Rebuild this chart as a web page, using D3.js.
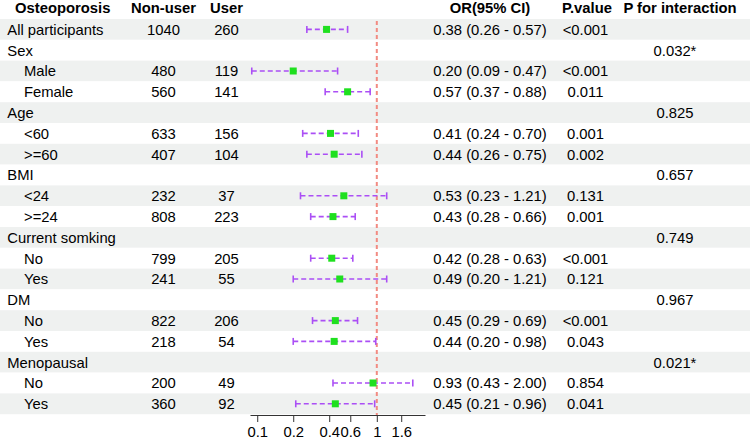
<!DOCTYPE html>
<html>
<head>
<meta charset="utf-8">
<script src="https://cdn.jsdelivr.net/npm/d3@7"></script>
<style>
html,body{margin:0;padding:0;background:#fff;}
svg{display:block;}
text{font-family:"Liberation Sans",Arial,sans-serif;}
</style>
</head>
<body>
<svg id="chart" width="750" height="439"></svg>
<script>
// ---- data ----
const labels = ["All participants","Sex","Male","Female","Age","<60",">=60","BMI","<24",">=24","Current somking","No","Yes","DM","No","Yes","Menopausal","No","Yes"];
const indent = [0,0,1,1,0,1,1,0,1,1,0,1,1,0,1,1,0,1,1];
const nonUser = [1040,null,480,560,null,633,407,null,232,808,null,799,241,null,822,218,null,200,360];
const user = [260,null,119,141,null,156,104,null,37,223,null,205,55,null,206,54,null,49,92];
const orVal = [0.38,null,0.20,0.57,null,0.41,0.44,null,0.53,0.43,null,0.42,0.49,null,0.45,0.44,null,0.93,0.45];
const ciLow = [0.26,null,0.09,0.37,null,0.24,0.26,null,0.23,0.28,null,0.28,0.20,null,0.29,0.20,null,0.43,0.21];
const ciHigh = [0.57,null,0.47,0.88,null,0.70,0.75,null,1.21,0.66,null,0.63,1.21,null,0.69,0.98,null,2.00,0.96];
const pValue = ["<0.001","","<0.001","0.011","","0.001","0.002","","0.131","0.001","","<0.001","0.121","","<0.001","0.043","","0.854","0.041"];
const pInter = ["","0.032*","","","0.825","","","0.657","","","0.749","","","0.967","","","0.021*","",""];
const headers = ["Osteoporosis","Non-user","User","OR(95% CI)","P.value","P for interaction"];
const tickVals = [0.1,0.2,0.4,0.6,1,1.6];

// ---- layout ----
const svg = d3.select("#chart");
const W = 750;
const fs = 14.8;
const rowTop = 19, rowH = 20.8;
const n = labels.length;
const yCenter = i => rowTop + rowH * i + rowH / 2;

const x = d3.scaleLog().domain([0.087, 2.53]).range([250, 425]);
const axisY = 415;

// backgrounds
svg.selectAll("rect.band").data(labels).enter().append("rect")
  .attr("class","band")
  .attr("x",0).attr("width",W)
  .attr("y",(d,i)=>rowTop + rowH*i).attr("height",rowH)
  .attr("fill",(d,i)=> i%2===0 ? "#eff1f0" : "#ffffff");

// headers
const colX = {lab:15, non:163.5, user:226.5, or:490, p:587, pi:680};
const hdr = [
  {t:headers[0], x:colX.lab, a:"start"},
  {t:headers[1], x:colX.non, a:"middle"},
  {t:headers[2], x:colX.user, a:"middle"},
  {t:headers[3], x:colX.or, a:"middle"},
  {t:headers[4], x:colX.p, a:"middle"},
  {t:headers[5], x:colX.pi, a:"middle"}
];
svg.selectAll("text.hdr").data(hdr).enter().append("text")
  .attr("class","hdr")
  .attr("x",d=>d.x).attr("y",13)
  .attr("text-anchor",d=>d.a)
  .attr("font-weight","bold")
  .attr("font-size",fs)
  .attr("fill","#000")
  .text(d=>d.t);

const baseOff = 5.3;
const g = svg.append("g");
labels.forEach((lab,i)=>{
  const y = yCenter(i) + baseOff;
  g.append("text").attr("x", indent[i] ? 24 : 7.3).attr("y",y).attr("font-size",fs).text(lab);
  if (nonUser[i] !== null) g.append("text").attr("x",colX.non).attr("y",y).attr("text-anchor","middle").attr("font-size",fs).text(nonUser[i]);
  if (user[i] !== null) g.append("text").attr("x",colX.user).attr("y",y).attr("text-anchor","middle").attr("font-size",fs).text(user[i]);
  if (orVal[i] !== null) {
    const f = d3.format(".2f");
    g.append("text").attr("x",colX.or).attr("y",y).attr("text-anchor","middle").attr("font-size",fs)
      .text(`${f(orVal[i])} (${f(ciLow[i])} - ${f(ciHigh[i])})`);
  }
  if (pValue[i]) g.append("text").attr("x",colX.p - 1.5).attr("y",y).attr("text-anchor","middle").attr("font-size",fs).text(pValue[i]);
  if (pInter[i]) g.append("text").attr("x",colX.pi - 5).attr("y",y).attr("text-anchor","middle").attr("font-size",fs).text(pInter[i]);
});

// reference line
svg.append("line")
  .attr("x1",x(1)).attr("x2",x(1))
  .attr("y1",rowTop + 2).attr("y2",axisY)
  .attr("stroke","#f28b82").attr("stroke-width",2)
  .attr("stroke-dasharray","4,3");

// CIs
const ciCol = "#ab4ff5";
const idx = d3.range(n).filter(i=>orVal[i]!==null);
const ci = svg.append("g");
idx.forEach(i=>{
  const y = yCenter(i);
  ci.append("line").attr("x1",x(ciLow[i])).attr("x2",x(ciHigh[i])).attr("y1",y).attr("y2",y)
    .attr("stroke",ciCol).attr("stroke-width",1.6).attr("stroke-dasharray","5,3");
  [ciLow[i],ciHigh[i]].forEach(v=>{
    ci.append("line").attr("x1",x(v)).attr("x2",x(v)).attr("y1",y-3.5).attr("y2",y+3.5)
      .attr("stroke",ciCol).attr("stroke-width",1.6);
  });
  ci.append("rect").attr("x",x(orVal[i])-3.5).attr("y",y-3.5).attr("width",7).attr("height",7)
    .attr("fill","#1fe01f");
});

// axis
const axis = d3.axisBottom(x).tickValues(tickVals).tickFormat(d3.format("")).tickSize(7).tickSizeOuter(0).tickPadding(4);
const ax = svg.append("g").attr("transform",`translate(0,${axisY})`).call(axis);
ax.select(".domain").attr("stroke","#333").attr("stroke-width",1);
ax.selectAll(".tick line").attr("stroke","#333").attr("stroke-width",1);
ax.selectAll(".tick text").attr("font-size",fs).attr("font-family","Liberation Sans, Arial, sans-serif").attr("fill","#000");
</script>
</body>
</html>
